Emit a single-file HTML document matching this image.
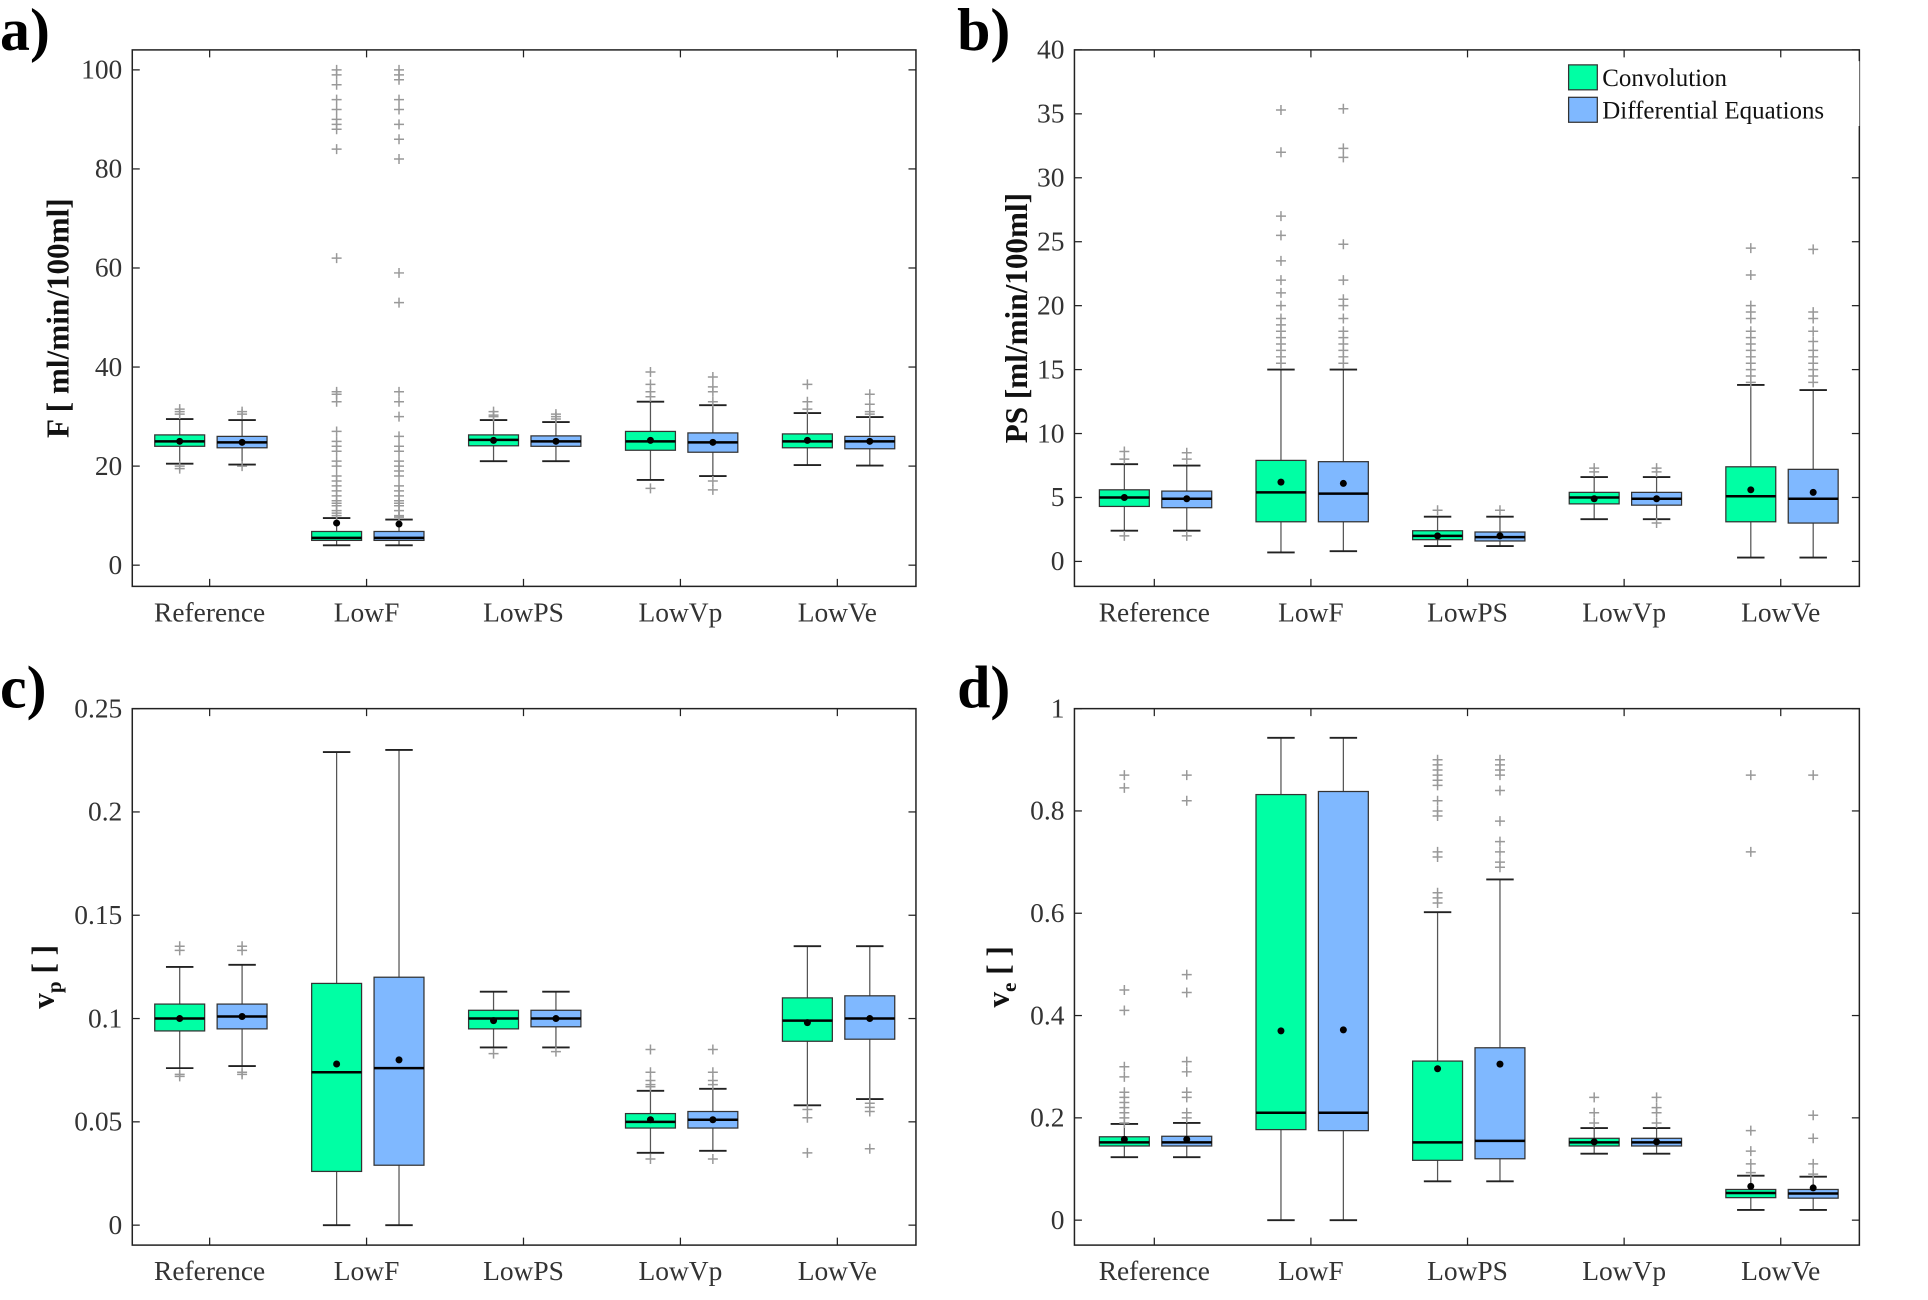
<!DOCTYPE html>
<html><head><meta charset="utf-8"><style>
html,body{margin:0;padding:0;background:#fff}
svg{display:block}
text{font-family:"Liberation Serif","Times New Roman",serif}
</style></head><body>
<svg id="fig" width="1928" height="1300" viewBox="0 0 1545 1042" preserveAspectRatio="none" xmlns="http://www.w3.org/2000/svg" font-family="Liberation Serif, serif"></svg>
<script>
const categories = ["Reference","LowF","LowPS","LowVp","LowVe"];
const seriesNames = ["Convolution","Differential Equations"];
// stats per group: [lowWhisker, q1, median, q3, highWhisker, mean]
const statsA_conv = [[20.5,24,25,26.3,29.5,25],[4,5,5.5,6.8,9.5,8.5],[21,24.1,25.3,26.3,29.3,25.2],[17.2,23.2,25,27,33,25.2],[20.2,23.7,25,26.5,30.7,25.2]];
const statsA_de   = [[20.3,23.7,24.8,26,29.3,24.8],[4,5,5.5,6.8,9.2,8.3],[21,24,25,26.1,28.9,25],[18,22.8,24.8,26.7,32.3,24.8],[20.1,23.5,25,26,29.9,25]];
const outA_conv = [[31.5,31,30.5,20,19.5],[100,99,97,94,92,90,89,88,84,62,35,34.5,33,27,25,24,23,21,20,18,17,16,15,14,13,12.5,12,11,10.5,10],[30,30.3,31],[15.5,34,35,36.5,39],[31.5,33,36.5]];
const outA_de   = [[31,30.5,20],[100,99,98,94,92,89,86,82,59,53,35,33,30,26,24,23,21,20,19,18,16,15,14,13,12.5,12,11,10,9.7],[29.5,30,30.5],[15.2,17,33,35,36,38],[30.5,31,32.5,34.5]];
const statsB_conv = [[2.4,4.3,5,5.6,7.6,5],[0.7,3.1,5.4,7.9,15,6.2],[1.2,1.7,2,2.4,3.5,2],[3.3,4.5,5,5.4,6.6,4.9],[0.3,3.1,5.1,7.4,13.8,5.6]];
const statsB_de   = [[2.4,4.2,4.9,5.5,7.5,4.9],[0.8,3.1,5.3,7.8,15,6.1],[1.2,1.6,1.9,2.3,3.5,2],[3.3,4.4,4.9,5.4,6.6,4.9],[0.3,3,4.9,7.2,13.4,5.4]];
const outB_conv = [[2,8,8.6],[15.5,16,16.5,17,17.5,18,18.5,19,20,21,22,23.5,25.5,27,32,35.3],[4],[7,7.3],[14,14.5,15,15.5,16,16.5,17,17.5,18,19,19.5,20,22.4,24.5]];
const outB_de   = [[2,8,8.5],[15.5,16,16.5,17,17.5,18,19,20,20.5,22,24.8,31.6,32.3,35.4],[4],[3,7,7.3],[14,14.5,15,15.5,16,16.5,17.2,18,19,19.5,24.4]];
const statsC_conv = [[0.076,0.094,0.1,0.107,0.125,0.1],[0,0.026,0.074,0.117,0.229,0.078],[0.086,0.095,0.1,0.104,0.113,0.099],[0.035,0.047,0.05,0.054,0.065,0.051],[0.058,0.089,0.099,0.11,0.135,0.098]];
const statsC_de   = [[0.077,0.095,0.101,0.107,0.126,0.101],[0,0.029,0.076,0.12,0.23,0.08],[0.086,0.096,0.1,0.104,0.113,0.1],[0.036,0.047,0.051,0.055,0.066,0.051],[0.061,0.09,0.1,0.111,0.135,0.1]];
const outC_conv = [[0.073,0.072,0.133,0.135],[],[0.083],[0.032,0.067,0.068,0.07,0.074,0.085],[0.035,0.052,0.056]];
const outC_de   = [[0.073,0.074,0.133,0.135],[],[0.084],[0.032,0.068,0.07,0.074,0.085],[0.037,0.055,0.057,0.059]];
const statsD_conv = [[0.123,0.145,0.152,0.163,0.188,0.158],[0,0.177,0.21,0.832,0.943,0.37],[0.076,0.117,0.152,0.311,0.602,0.296],[0.13,0.145,0.152,0.16,0.18,0.153],[0.02,0.044,0.053,0.06,0.087,0.066]];
const statsD_de   = [[0.123,0.145,0.152,0.164,0.19,0.158],[0,0.175,0.21,0.838,0.943,0.372],[0.076,0.12,0.155,0.337,0.666,0.305],[0.13,0.145,0.152,0.16,0.18,0.153],[0.02,0.043,0.052,0.06,0.085,0.063]];
const outD_conv = [[0.19,0.2,0.21,0.22,0.23,0.24,0.25,0.28,0.3,0.41,0.45,0.845,0.87],[],[0.62,0.63,0.64,0.71,0.72,0.79,0.8,0.82,0.85,0.86,0.87,0.88,0.89,0.9],[0.19,0.21,0.24],[0.093,0.11,0.135,0.175,0.72,0.87]];
const outD_de   = [[0.2,0.21,0.24,0.25,0.29,0.31,0.445,0.48,0.82,0.87],[],[0.69,0.7,0.72,0.74,0.78,0.84,0.87,0.88,0.89,0.9],[0.19,0.21,0.22,0.24],[0.09,0.11,0.16,0.205,0.87]];
const ticksA = [0,20,40,60,80,100];
const ticksB = [0,5,10,15,20,25,30,35,40];
const ticksC = [0,0.05,0.1,0.15,0.2,0.25];
const tickLabelsC = ["0","0.05","0.1","0.15","0.2","0.25"];
const ticksD = [0,0.2,0.4,0.6,0.8,1];
const tickLabelsD = ["0","0.2","0.4","0.6","0.8","1"];

const NS="http://www.w3.org/2000/svg";
const svg=document.getElementById('fig');
function mk(tag,attrs,parent){const e=document.createElementNS(NS,tag);for(const k in attrs)e.setAttribute(k,attrs[k]);(parent||svg).appendChild(e);return e;}
const colors=["#00ffa4","#7fb8ff"];
const FF="Liberation Serif, serif";

function panel(p){
  const g=mk('g',{});
  
  
  const x0=p.x0,x1=p.x1,yT=p.yT,yB=p.yB;
  const ys=v=>p.py0+(p.py1-p.py0)*(v-p.v0)/(p.v1-p.v0);
  const xs=i=>p.cx0+i*(p.cx1-p.cx0)/(categories.length-1);
  mk('rect',{x:x0,y:yT,width:x1-x0,height:yB-yT,fill:'none',stroke:'#222','stroke-width':1.2},g);
  p.ticks.forEach((t,i)=>{
    const y=ys(t);
    mk('line',{x1:x0,x2:x0+6,y1:y,y2:y,stroke:'#222'},g);
    mk('line',{x1:x1,x2:x1-6,y1:y,y2:y,stroke:'#222'},g);
    const tx=mk('text',{x:x0-8,y:y+7,'text-anchor':'end','font-size':22,fill:'#333','font-family':FF},g);
    
    
    tx.textContent=p.labels?p.labels[i]:String(t);
  });
  categories.forEach((c,i)=>{
    const x=xs(i);
    mk('line',{x1:x,x2:x,y1:yB,y2:yB-6,stroke:'#222'},g);
    mk('line',{x1:x,x2:x,y1:yT,y2:yT+6,stroke:'#222'},g);
    const tx=mk('text',{x:x,y:yB+28,'text-anchor':'middle','font-size':22,fill:'#333','font-family':FF},g);
    
    
    tx.textContent=c;
  });
  [p.s0,p.s1].forEach((S,si)=>{
    const O=si?p.o1:p.o0;
    S.forEach((s,i)=>{
      const cx=xs(i)+(si?26:-24), w=40;
      const bg=mk('g',{},g);
      
      
      mk('line',{x1:cx,x2:cx,y1:ys(s[0]),y2:ys(s[1]),stroke:'#555','stroke-width':1},bg);
      mk('line',{x1:cx,x2:cx,y1:ys(s[3]),y2:ys(s[4]),stroke:'#555','stroke-width':1},bg);
      mk('line',{x1:cx-11,x2:cx+11,y1:ys(s[0]),y2:ys(s[0]),stroke:'#222','stroke-width':1.5},bg);
      mk('line',{x1:cx-11,x2:cx+11,y1:ys(s[4]),y2:ys(s[4]),stroke:'#222','stroke-width':1.5},bg);
      mk('rect',{x:cx-w/2,y:ys(s[3]),width:w,height:ys(s[1])-ys(s[3]),fill:colors[si],stroke:'#333','stroke-width':1},bg);
      mk('line',{x1:cx-w/2,x2:cx+w/2,y1:ys(s[2]),y2:ys(s[2]),stroke:'#000','stroke-width':2},bg);
      O[i].forEach(v=>{
        const y=ys(v);
        mk('path',{d:`M${cx-4} ${y}h8M${cx} ${y-4}v8`,stroke:'#999','stroke-width':1.2,fill:'none'},bg);
      });
      mk('circle',{cx:cx,cy:ys(s[5]),r:2.8,fill:'#000'},bg);
    });
  });
  const yl=mk('text',{transform:`translate(${p.ylx},${(yT+yB)/2}) rotate(-90)`,'text-anchor':'middle','font-size':25,'font-weight':'bold',fill:'#111','font-family':FF},g);
  
  
  yl.innerHTML=p.ylabel;
  const lt=mk('text',{x:p.lx,y:p.ly,'font-size':48,'font-weight':'bold',fill:'#000','font-family':FF},g);
  
  
  lt.textContent=p.id+')';
}
panel({id:'a',x0:106,x1:734,yT:40,yB:470,v0:0,v1:100,py0:453,py1:56,cx0:168,cx1:671,ticks:ticksA,s0:statsA_conv,s1:statsA_de,o0:outA_conv,o1:outA_de,ylx:55,ylabel:'F [ ml/min/100ml]',lx:0,ly:40});
panel({id:'b',x0:861,x1:1490,yT:40,yB:470,v0:0,v1:40,py0:450,py1:40,cx0:925,cx1:1427,ticks:ticksB,s0:statsB_conv,s1:statsB_de,o0:outB_conv,o1:outB_de,ylx:823,ylabel:'PS [ml/min/100ml]',lx:767,ly:40});
panel({id:'c',x0:106,x1:734,yT:568,yB:998,v0:0,v1:0.25,py0:982,py1:568,cx0:168,cx1:671,ticks:ticksC,labels:tickLabelsC,s0:statsC_conv,s1:statsC_de,o0:outC_conv,o1:outC_de,ylx:43,ylabel:'v<tspan font-size="17" dy="6">p</tspan><tspan dy="-6"> [ ]</tspan>',lx:0,ly:567});
panel({id:'d',x0:861,x1:1490,yT:568,yB:998,v0:0,v1:1,py0:978,py1:568,cx0:925,cx1:1427,ticks:ticksD,labels:tickLabelsD,s0:statsD_conv,s1:statsD_de,o0:outD_conv,o1:outD_de,ylx:808,ylabel:'v<tspan font-size="17" dy="6">e</tspan><tspan dy="-6"> [ ]</tspan>',lx:767,ly:567});
const lg=mk('g',{});


mk('rect',{x:1254,y:49,width:236,height:52,fill:'#fff',stroke:'none'},lg);
seriesNames.forEach((n,i)=>{
  const e=mk('g',{},lg);
  
  
  mk('rect',{x:1257,y:52+i*26,width:23,height:20,fill:colors[i],stroke:'#333'},e);
  const t=mk('text',{x:1284,y:69+i*26,'font-size':20,fill:'#111','font-family':FF},e);
  t.textContent=n;
});
</script>
</body></html>
